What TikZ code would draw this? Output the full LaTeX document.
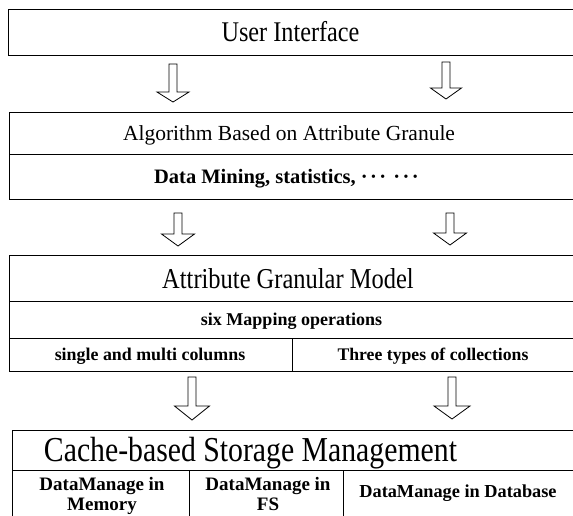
\documentclass[tikz,border=0pt]{standalone}
\usepackage{fontspec}
\setmainfont{Liberation Serif}
\newfontfamily\condf[FakeStretch=0.85]{Liberation Serif}
\newcommand\blockarrow[6]{%
  \draw[arr] (#1-#5,#2) -- (#1-#5,#3) -- (#1-#6,#3) -- (#1,#4) -- (#1+#6,#3) -- (#1+#5,#3) -- (#1+#5,#2) -- cycle;}
\newcommand\dotgroup{·\hspace{2.5pt}·\hspace{2.5pt}·}
\begin{document}
\begin{tikzpicture}[x=1pt,y=-1pt,
  box/.style={draw=black, line width=1pt},
  txt/.style={anchor=base, inner sep=0pt},
  ttl/.style={txt, font=\condf\fontsize{#1}{#1}\selectfont},
  bld/.style={txt, font=\bfseries\fontsize{#1}{#1}\selectfont},
  arr/.style={draw=black, line width=0.8pt, fill=white, line join=miter}]
\useasboundingbox (0,0) rectangle (573,515);
\clip (0,0) rectangle (573,515);
% boxes
\draw[box] (8,9.5) rectangle (580,55.5);
\draw[box] (9,112) rectangle (580,199);
\draw[box] (9,154) -- (580,154);
\draw[box] (9,255) rectangle (580,371);
\draw[box] (9,301) -- (580,301);
\draw[box] (9,338) -- (580,338);
\draw[box] (292,338) -- (292,371);
\draw[box] (12,520) -- (12,430) -- (580,430);
\draw[box] (12,470) -- (580,470);
\draw[box] (189,470) -- (189,520);
\draw[box] (343,470) -- (343,520);
% texts
\node[ttl=28.5] (ui) at (290.5,41.7) {User Interface};
\node[txt, font=\fontsize{21.5}{22}\selectfont] (alg) at (289,140) {Algorithm Based on Attribute Granule};
\node[bld=20.5] (dm) at (286.5,183.5) {Data Mining, statistics, \dotgroup\hspace{7pt}\dotgroup};
\node[ttl=28.8] (agm) at (288,288) {Attribute Granular Model};
\node[bld=18] (six) at (291.5,325.7) {six Mapping operations};
\node[bld=17.9] (smc) at (150,360.5) {single and multi columns};
\node[bld=17.7] (ttc) at (433,360.5) {Three types of collections};
\node[ttl=35] (csm) at (250.5,461.5) {Cache-based Storage Management};
\node[bld=19] (mem1) at (102,490) {DataManage in};
\node[bld=19] (mem2) at (102,510) {Memory};
\node[bld=19] (fs1) at (268,490) {DataManage in};
\node[bld=19] (fs2) at (268,510) {FS};
\node[bld=18.3] (db) at (458,497.5) {DataManage in Database};
% arrows
\blockarrow{173}{64}{92}{102}{4}{16}
\blockarrow{446}{62}{88}{99}{4}{15.5}
\blockarrow{178}{213}{234}{246}{4}{16.5}
\blockarrow{450}{213}{233}{245}{4}{16.5}
\blockarrow{192}{377}{406}{420}{4}{17.5}
\blockarrow{452}{377}{406}{419}{4}{18}
\end{tikzpicture}
\end{document}
